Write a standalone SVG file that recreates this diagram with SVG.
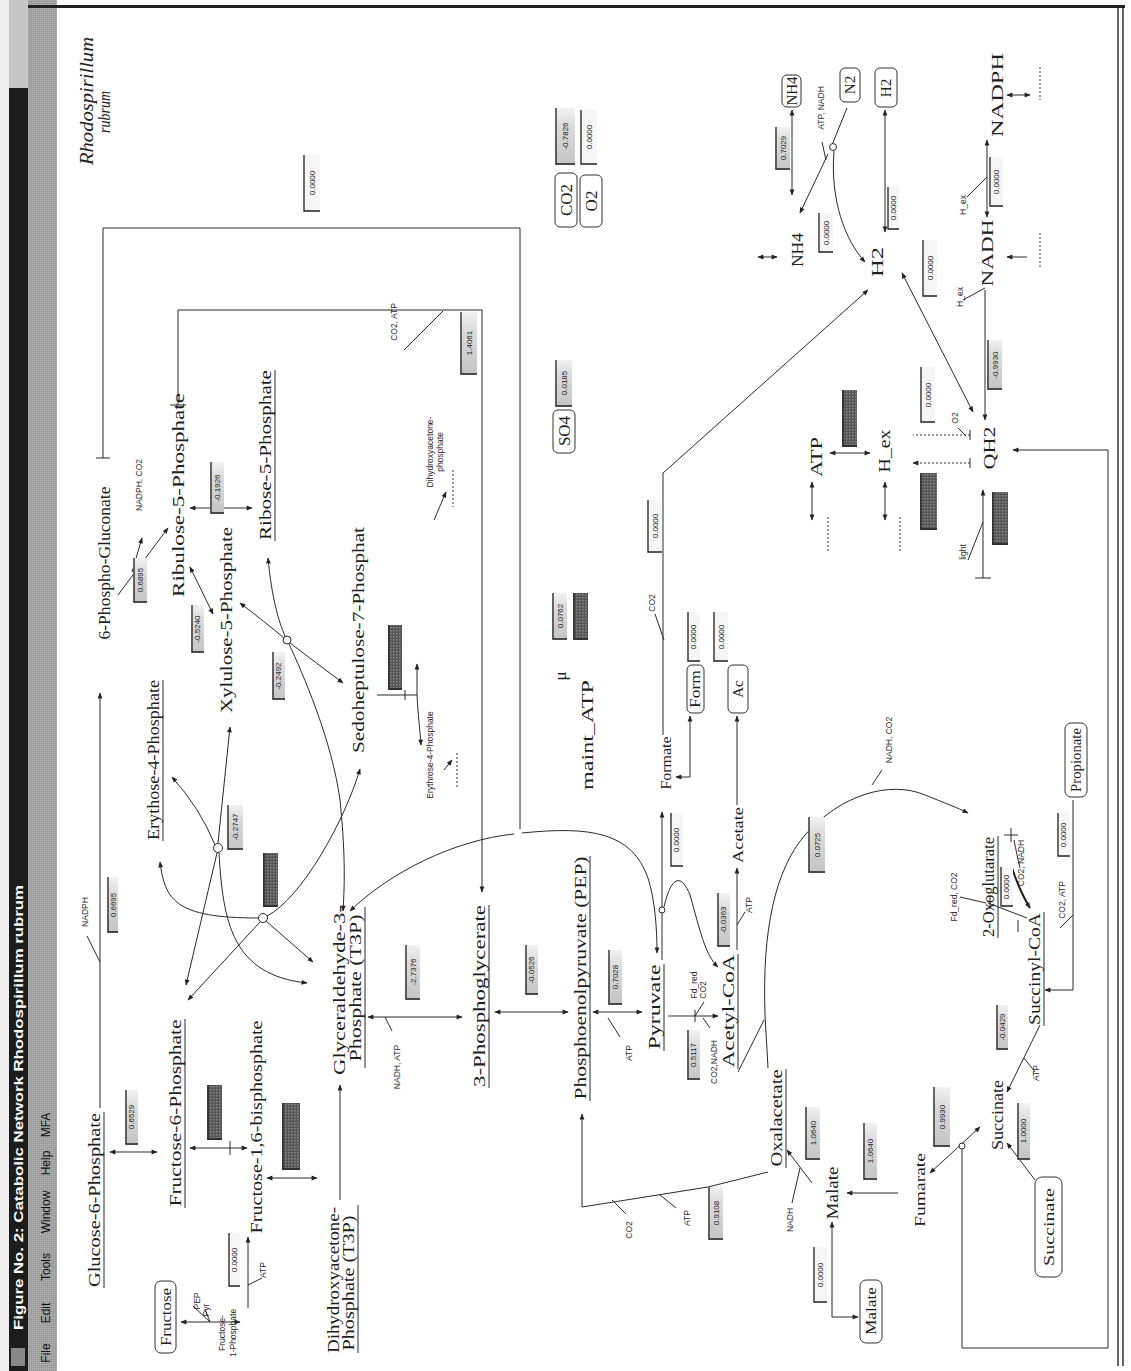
<svg xmlns="http://www.w3.org/2000/svg" width="1131" height="1371" viewBox="0 0 1131 1371">
<defs>
<style>
.m{font-family:"Liberation Serif","DejaVu Serif",serif;font-size:17px;fill:#1e1e1e}
.f{font-family:"Liberation Serif","DejaVu Serif",serif;font-size:15px;fill:#1e1e1e}
.s{font-family:"Liberation Sans","DejaVu Sans",sans-serif;font-size:8.5px;fill:#2a2a2a}
.v{font-family:"Liberation Sans","DejaVu Sans",sans-serif;font-size:8px;fill:#222}
.c{fill:none;stroke:#2a2a2a;stroke-width:1}
.d{fill:none;stroke:#333;stroke-width:1;stroke-dasharray:2 2}
.bx{fill:#fff;stroke:#333;stroke-width:1}
.fw{fill:#f6f6f6}
.fg{fill:url(#gg)}
.fd{fill:url(#hp)}
.fe{fill:none;stroke:#222;stroke-width:1.3}
.ci{fill:#fff;stroke:#2a2a2a;stroke-width:1}
.ul{stroke:#2a2a2a;stroke-width:1}
</style>
<linearGradient id="gg" x1="0" y1="1" x2="0" y2="0"><stop offset="0" stop-color="#c4c4c4"/><stop offset="0.7" stop-color="#dcdcdc"/><stop offset="1" stop-color="#f2f2f2"/></linearGradient>
<pattern id="hp" width="3" height="3" patternUnits="userSpaceOnUse"><rect width="3" height="3" fill="#555"/><rect width="1.5" height="1.5" fill="#888"/></pattern>
<pattern id="mp" width="2" height="2" patternUnits="userSpaceOnUse"><rect width="2" height="2" fill="#9c9c9c"/><rect width="1" height="1" fill="#b8b8b8"/></pattern>
<marker id="a" viewBox="0 0 10 10" refX="9" refY="5" markerWidth="7" markerHeight="6" orient="auto-start-reverse" markerUnits="userSpaceOnUse"><path d="M0,1L10,5L0,9z" fill="#222"/></marker>
</defs>

<g id="window">
<rect x="0" y="0" width="1131" height="1371" fill="#fff"/>
<rect x="0" y="0" width="9" height="1371" fill="#eeeeee"/>
<rect x="9" y="88" width="19" height="1283" fill="#1c1c1c"/>
<rect x="9" y="0" width="19" height="88" fill="#c6c6c6"/>
<rect x="28" y="0" width="29" height="1371" fill="url(#mp)"/>
<rect x="28" y="5" width="1097" height="3" fill="#222"/>
<line x1="1118" y1="8" x2="1118" y2="1366" stroke="#333" stroke-width="1.5"/>
<line x1="1123" y1="8" x2="1123" y2="1366" stroke="#333" stroke-width="1.5"/>
<rect x="11" y="1348" width="14" height="18" fill="#888"/>
<text transform="translate(23,1330) rotate(-90)" font-family="Liberation Sans, sans-serif" font-weight="bold" font-size="12" fill="#fff" textLength="445" lengthAdjust="spacingAndGlyphs">Figure No. 2: Catabolic Network Rhodospirillum rubrum</text>
<g font-family="Liberation Sans, sans-serif" font-size="12" fill="#111" text-anchor="middle">
<text transform="translate(50,1353) rotate(-90)">File</text>
<text transform="translate(50,1313) rotate(-90)">Edit</text>
<text transform="translate(50,1267) rotate(-90)">Tools</text>
<text transform="translate(50,1212) rotate(-90)">Window</text>
<text transform="translate(50,1163) rotate(-90)">Help</text>
<text transform="translate(50,1125) rotate(-90)">MFA</text>
</g>
</g>

<g id="title">
<text transform="translate(93,101) rotate(-90)" text-anchor="middle" font-family="Liberation Serif, serif" font-style="italic" font-size="18" fill="#222" textLength="128" lengthAdjust="spacingAndGlyphs">Rhodospirillum</text>
<text transform="translate(110,112) rotate(-90)" text-anchor="middle" font-family="Liberation Serif, serif" font-style="italic" font-size="17" fill="#222" textLength="42" lengthAdjust="spacingAndGlyphs">rubrum</text>
</g>

<g id="connectors">
<path class="c" d="M100 1108V693" marker-end="url(#a)"/>
<path class="c" d="M100 962L87 936"/>
<path class="c" d="M96 458H110M103 458V228H520V829"/>
<path class="c" d="M350 911C390 872 455 840 514 834M522 833C590 826 632 832 648 878C655 900 657 928 657 953" marker-start="url(#a)" marker-end="url(#a)"/>
<path class="c" d="M170 405H186"/>
<path class="c" d="M178 405V310H482V892" marker-end="url(#a)"/>
<path class="c" d="M443 311L404 350"/>
<path class="c" d="M118 595L168 528" marker-end="url(#a)"/>
<path class="c" d="M132 572L142 538" marker-end="url(#a)"/>
<path class="c" d="M190 508H252" marker-start="url(#a)" marker-end="url(#a)"/>
<path class="c" d="M190 567L213 614" marker-start="url(#a)" marker-end="url(#a)"/>
<path class="c" d="M240 603Q265 622 284 638M290 643Q315 662 343 683" marker-start="url(#a)" marker-end="url(#a)"/>
<circle class="ci" cx="287" cy="640" r="4"/>
<path class="c" d="M268 558C272 600 279 622 285 636M289 644C302 672 332 740 340 800C345 850 345 880 343 911" marker-start="url(#a)" marker-end="url(#a)"/>
<path class="c" d="M230 727L218 843M217 853L186 985" marker-start="url(#a)" marker-end="url(#a)"/>
<circle class="ci" cx="218" cy="848" r="4.5"/>
<path class="c" d="M172 777Q200 808 215 845" marker-start="url(#a)"/>
<path class="c" d="M219 853C223 922 232 975 307 983" marker-end="url(#a)"/>
<path class="c" d="M160 862C165 900 175 918 258 918" marker-start="url(#a)"/>
<circle class="ci" cx="263" cy="918" r="4.5"/>
<path class="c" d="M267 916C302 898 345 820 360 769" marker-end="url(#a)"/>
<path class="c" d="M313 962L266 921" marker-start="url(#a)"/>
<path class="c" d="M260 922L188 1000" marker-end="url(#a)"/>
<path class="c" d="M110 1152H157" marker-start="url(#a)" marker-end="url(#a)"/>
<path class="c" d="M190 1148H247" marker-start="url(#a)" marker-end="url(#a)"/>
<path class="c" d="M230 1141V1155"/>
<path class="c" d="M267 1178H317" marker-start="url(#a)" marker-end="url(#a)"/>
<path class="c" d="M340 1200V1085" marker-end="url(#a)"/>
<path class="c" d="M181 1322H240" marker-start="url(#a)" marker-end="url(#a)"/>
<path class="c" d="M193 1306L210 1322L205 1309"/>
<path class="c" d="M248 1308V1237" marker-end="url(#a)"/>
<path class="c" d="M248 1285L262 1278"/>
<path class="c" d="M368 1017H462" marker-start="url(#a)" marker-end="url(#a)"/>
<path class="c" d="M385 1017L392 1031"/>
<path class="c" d="M495 1012H568" marker-start="url(#a)" marker-end="url(#a)"/>
<path class="c" d="M593 1012H642" marker-start="url(#a)" marker-end="url(#a)"/>
<path class="c" d="M608 1018L620 1037"/>
<path class="c" d="M662 960V812" marker-end="url(#a)"/>
<circle class="ci" cx="662" cy="910" r="3"/>
<path class="c" d="M664 907C670 880 680 870 690 895C700 930 705 955 718 967" marker-end="url(#a)"/>
<path class="c" d="M668 1016H718" marker-end="url(#a)"/>
<path class="c" d="M695 1010V1022M695 1016L704 1002M703 1018L710 1028"/>
<path class="c" d="M737 950V868" marker-end="url(#a)"/>
<path class="c" d="M737 925L745 912"/>
<path class="c" d="M737 805V716" marker-end="url(#a)"/>
<path class="c" d="M676 777H690V716" marker-start="url(#a)" marker-end="url(#a)"/>
<path class="c" d="M663 735V473L868 290" marker-end="url(#a)"/>
<path class="c" d="M664 640L655 614"/>
<path class="c" d="M768 1172L708 1187L582 1207V1114" marker-end="url(#a)"/>
<path class="c" d="M612 1200L626 1214M660 1195L676 1208"/>
<path class="c" d="M768 1068L765 1015C762 930 775 870 805 835C840 795 890 780 925 795C945 803 958 808 968 813" marker-end="url(#a)"/>
<path class="c" d="M738 1072L764 1020"/>
<path class="c" d="M872 785L882 770"/>
<path class="c" d="M812 1183L787 1150" marker-end="url(#a)"/>
<path class="c" d="M800 1168L792 1203"/>
<path class="c" d="M898 1193H847" marker-end="url(#a)"/>
<path class="c" d="M832 1222V1317H858" marker-start="url(#a)" marker-end="url(#a)"/>
<path class="c" d="M980 1127L930 1173" marker-start="url(#a)" marker-end="url(#a)"/>
<circle class="ci" cx="962" cy="1146" r="3"/>
<path class="c" d="M962 1149V1348H1108V450H1013" marker-end="url(#a)"/>
<path class="c" d="M1035 1180L1007 1143" marker-end="url(#a)"/>
<path class="c" d="M1040 1025L1007 1092" marker-end="url(#a)"/>
<path class="c" d="M1024 1058L1035 1072"/>
<path class="c" d="M1073 800V990H1045" marker-end="url(#a)"/>
<path class="c" d="M1073 915L1060 928"/>
<path d="M1012 868C1016 880 1022 895 1030 908" fill="none" stroke="#222" stroke-width="2" marker-end="url(#a)"/>
<path class="c" d="M1011 828V842M1004 835H1018M1014 840C1016 850 1018 860 1020 868"/>
<path class="c" d="M1027 918L988 903M990 897V909M1018 920V932M986 903L960 897"/>
<path class="c" d="M885 110V232" marker-start="url(#a)" marker-end="url(#a)"/>
<path class="c" d="M792 110V195" marker-start="url(#a)" marker-end="url(#a)"/>
<path class="c" d="M847 108L830 150M828 154L800 213" marker-end="url(#a)"/>
<circle class="ci" cx="833" cy="147" r="3.5"/>
<path class="c" d="M834 151C830 200 845 240 865 262" marker-end="url(#a)"/>
<path class="c" d="M822 142L826 160"/>
<path class="c" d="M987 140V217" marker-start="url(#a)" marker-end="url(#a)"/>
<path class="c" d="M967 197L987 177"/>
<path class="c" d="M985 290V420" marker-end="url(#a)"/>
<path class="c" d="M963 300L985 288"/>
<path class="c" d="M902 273L973 412" marker-start="url(#a)" marker-end="url(#a)"/>
<path class="c" d="M830 453H870" marker-start="url(#a)" marker-end="url(#a)"/>
<path class="d" d="M970 435H913M970 463H913" marker-end="url(#a)"/>
<path class="c" d="M970 430V440M970 458V468"/>
<path class="c" d="M958 428L966 436"/>
<path class="c" d="M975 578H991"/>
<path class="c" d="M983 578V490" marker-end="url(#a)"/>
<path class="c" d="M968 560L983 522"/>
<path class="c" d="M812 482V520" marker-start="url(#a)" marker-end="url(#a)"/>
<path class="c" d="M885 482V520" marker-start="url(#a)" marker-end="url(#a)"/>
<path class="c" d="M758 257H777" marker-start="url(#a)" marker-end="url(#a)"/>
<path class="c" d="M1007 95H1030" marker-start="url(#a)" marker-end="url(#a)"/>
<path class="c" d="M1007 257H1027" marker-start="url(#a)"/>
<path class="d" d="M828 517V553M900 517V553M1040 67V100M1040 233V267M453 470V507M457 753V787"/>
<path class="c" d="M377 695H417V664" marker-end="url(#a)"/>
<path class="c" d="M405 690V700"/>
<path class="c" d="M417 695C418 715 420 730 421 745" marker-end="url(#a)"/>
<path class="c" d="M446 492L434 520" marker-start="url(#a)"/>
<path class="c" d="M444 770L452 760" marker-end="url(#a)"/>
</g>

<g id="nodes">
<g id="n-6pg"><text class="m" transform="translate(110,563) rotate(-90)" text-anchor="middle" textLength="153" lengthAdjust="spacingAndGlyphs">6-Phospho-Gluconate</text></g>
<g id="n-ru5p"><text class="m" transform="translate(184,495) rotate(-90)" text-anchor="middle" textLength="204" lengthAdjust="spacingAndGlyphs">Ribulose-5-Phosphate</text></g>
<g id="n-r5p"><text class="m" transform="translate(271,455) rotate(-90)" text-anchor="middle" textLength="170" lengthAdjust="spacingAndGlyphs">Ribose-5-Phosphate</text><line class="ul" x1="275" y1="370" x2="275" y2="541"/></g>
<g id="n-x5p"><text class="m" transform="translate(232,620) rotate(-90)" text-anchor="middle" textLength="186" lengthAdjust="spacingAndGlyphs">Xylulose-5-Phosphate</text></g>
<g id="n-e4p"><text class="m" transform="translate(159,760) rotate(-90)" text-anchor="middle" textLength="160" lengthAdjust="spacingAndGlyphs">Erythose-4-Phosphate</text><line class="ul" x1="163" y1="680" x2="163" y2="841"/></g>
<g id="n-s7p"><text class="m" transform="translate(364,640) rotate(-90)" text-anchor="middle" textLength="226" lengthAdjust="spacingAndGlyphs">Sedoheptulose-7-Phosphat</text></g>
<g id="n-g6p"><text class="m" transform="translate(100,1200) rotate(-90)" text-anchor="middle" textLength="174" lengthAdjust="spacingAndGlyphs">Glucose-6-Phosphate</text><line class="ul" x1="104" y1="1112" x2="104" y2="1288"/></g>
<g id="n-f6p"><text class="m" transform="translate(181,1113) rotate(-90)" text-anchor="middle" textLength="187" lengthAdjust="spacingAndGlyphs">Fructose-6-Phosphate</text><line class="ul" x1="185" y1="1019" x2="185" y2="1208"/></g>
<g id="n-fbp"><text class="m" transform="translate(262,1127) rotate(-90)" text-anchor="middle" textLength="213" lengthAdjust="spacingAndGlyphs">Fructose-1,6-bisphosphate</text></g>
<g id="n-t3p"><text class="m" transform="translate(345,990) rotate(-90)" text-anchor="middle" textLength="170" lengthAdjust="spacingAndGlyphs">Glyceraldehyde-3-</text><text class="m" transform="translate(361,988) rotate(-90)" text-anchor="middle" textLength="147" lengthAdjust="spacingAndGlyphs">Phosphate (T3P)</text><line class="ul" x1="365" y1="907" x2="365" y2="1068"/></g>
<g id="n-dhap"><text class="m" transform="translate(339,1280) rotate(-90)" text-anchor="middle" textLength="146" lengthAdjust="spacingAndGlyphs">Dihydroxyacetone-</text><text class="m" transform="translate(354,1283) rotate(-90)" text-anchor="middle" textLength="135" lengthAdjust="spacingAndGlyphs">Phosphate (T3P)</text><line class="ul" x1="358" y1="1205" x2="358" y2="1353"/></g>
<g id="n-3pg"><text class="m" transform="translate(485,996) rotate(-90)" text-anchor="middle" textLength="182" lengthAdjust="spacingAndGlyphs">3-Phosphoglycerate</text><line class="ul" x1="489" y1="905" x2="489" y2="1088"/></g>
<g id="n-pep"><text class="m" transform="translate(586,978) rotate(-90)" text-anchor="middle" textLength="243" lengthAdjust="spacingAndGlyphs">Phosphoenolpyruvate (PEP)</text><line class="ul" x1="590" y1="856" x2="590" y2="1101"/></g>
<g id="n-pyr"><text class="m" transform="translate(660,1007) rotate(-90)" text-anchor="middle" textLength="85" lengthAdjust="spacingAndGlyphs">Pyruvate</text><line class="ul" x1="664" y1="964" x2="664" y2="1051"/></g>
<g id="n-for"><text class="f" transform="translate(671,763) rotate(-90)" text-anchor="middle" textLength="53" lengthAdjust="spacingAndGlyphs">Formate</text></g>
<g id="n-accoa"><text class="m" transform="translate(734,1011) rotate(-90)" text-anchor="middle" textLength="113" lengthAdjust="spacingAndGlyphs">Acetyl-CoA</text><line class="ul" x1="738" y1="954" x2="738" y2="1069"/></g>
<g id="n-ace"><text class="f" transform="translate(743,835) rotate(-90)" text-anchor="middle" textLength="56" lengthAdjust="spacingAndGlyphs">Acetate</text></g>
<g id="n-oaa"><text class="m" transform="translate(782,1118) rotate(-90)" text-anchor="middle" textLength="97" lengthAdjust="spacingAndGlyphs">Oxalacetate</text><line class="ul" x1="786" y1="1069" x2="786" y2="1168"/></g>
<g id="n-2og"><text class="m" transform="translate(994,887) rotate(-90)" text-anchor="middle" textLength="100" lengthAdjust="spacingAndGlyphs">2-Oxoglutarate</text><line class="ul" x1="998" y1="836" x2="998" y2="938"/></g>
<g id="n-succoa"><text class="m" transform="translate(1040,969) rotate(-90)" text-anchor="middle" textLength="112" lengthAdjust="spacingAndGlyphs">Succinyl-CoA</text><line class="ul" x1="1044" y1="912" x2="1044" y2="1026"/></g>
<g id="n-succ"><text class="m" transform="translate(1003,1115) rotate(-90)" text-anchor="middle" textLength="70" lengthAdjust="spacingAndGlyphs">Succinate</text></g>
<g id="n-mal"><text class="m" transform="translate(838,1193) rotate(-90)" text-anchor="middle" textLength="53" lengthAdjust="spacingAndGlyphs">Malate</text></g>
<g id="n-fum"><text class="f" transform="translate(925,1190) rotate(-90)" text-anchor="middle" textLength="74" lengthAdjust="spacingAndGlyphs">Fumarate</text></g>
<g id="n-nh4"><text class="m" transform="translate(803,250) rotate(-90)" text-anchor="middle" textLength="34" lengthAdjust="spacingAndGlyphs">NH4</text></g>
<g id="n-h2"><text class="m" transform="translate(883,262) rotate(-90)" text-anchor="middle" textLength="30" lengthAdjust="spacingAndGlyphs">H2</text></g>
<g id="n-nadh"><text class="m" transform="translate(993,253) rotate(-90)" text-anchor="middle" textLength="67" lengthAdjust="spacingAndGlyphs">NADH</text></g>
<g id="n-nadph"><text class="m" transform="translate(1003,95) rotate(-90)" text-anchor="middle" textLength="84" lengthAdjust="spacingAndGlyphs">NADPH</text></g>
<g id="n-atp"><text class="m" transform="translate(822,457) rotate(-90)" text-anchor="middle" textLength="40" lengthAdjust="spacingAndGlyphs">ATP</text></g>
<g id="n-hex"><text class="m" transform="translate(890,451) rotate(-90)" text-anchor="middle" textLength="43" lengthAdjust="spacingAndGlyphs">H_ex</text></g>
<g id="n-qh2"><text class="m" transform="translate(995,448) rotate(-90)" text-anchor="middle" textLength="43" lengthAdjust="spacingAndGlyphs">QH2</text></g>
<g id="n-mu"><text class="m" transform="translate(566,676) rotate(-90)" text-anchor="middle">μ</text></g>
<g id="n-maint"><text class="m" transform="translate(593,735) rotate(-90)" text-anchor="middle" textLength="110" lengthAdjust="spacingAndGlyphs">maint_ATP</text></g>

<g id="b-co2"><rect class="bx" x="555" y="173" width="22" height="54" rx="5"/><text class="m" transform="translate(572,200) rotate(-90)" text-anchor="middle">CO2</text></g>
<g id="b-o2"><rect class="bx" x="580" y="175" width="22" height="52" rx="5"/><text class="m" transform="translate(597,201) rotate(-90)" text-anchor="middle">O2</text></g>
<g id="b-so4"><rect class="bx" x="553" y="410" width="22" height="43" rx="5"/><text class="m" transform="translate(570,431) rotate(-90)" text-anchor="middle">SO4</text></g>
<g id="b-nh4"><rect class="bx" x="782" y="75" width="19" height="32" rx="5"/><text class="f" transform="translate(797,91) rotate(-90)" text-anchor="middle">NH4</text></g>
<g id="b-n2"><rect class="bx" x="840" y="68" width="20" height="34" rx="5"/><text class="f" transform="translate(855,85) rotate(-90)" text-anchor="middle">N2</text></g>
<g id="b-h2"><rect class="bx" x="875" y="68" width="22" height="39" rx="5"/><text class="f" transform="translate(891,88) rotate(-90)" text-anchor="middle">H2</text></g>
<g id="b-form"><rect class="bx" x="687" y="665" width="17" height="48" rx="5"/><text class="f" transform="translate(700,689) rotate(-90)" text-anchor="middle" textLength="38" lengthAdjust="spacingAndGlyphs">Form</text></g>
<g id="b-ac"><rect class="bx" x="728" y="665" width="20" height="48" rx="5"/><text class="f" transform="translate(743,689) rotate(-90)" text-anchor="middle">Ac</text></g>
<g id="b-fru"><rect class="bx" x="155" y="1281" width="21" height="72" rx="6"/><text class="f" transform="translate(171,1317) rotate(-90)" text-anchor="middle" textLength="58" lengthAdjust="spacingAndGlyphs">Fructose</text></g>
<g id="b-mal"><rect class="bx" x="860" y="1280" width="22" height="63" rx="6"/><text class="f" transform="translate(876,1311) rotate(-90)" text-anchor="middle" textLength="48" lengthAdjust="spacingAndGlyphs">Malate</text></g>
<g id="b-succ"><rect class="bx" x="1035" y="1177" width="27" height="100" rx="7"/><text class="f" transform="translate(1054,1227) rotate(-90)" text-anchor="middle" textLength="78" lengthAdjust="spacingAndGlyphs">Succinate</text></g>
<g id="b-prop"><rect class="bx" x="1065" y="723" width="22" height="74" rx="6"/><text class="f" transform="translate(1081,760) rotate(-90)" text-anchor="middle" textLength="64" lengthAdjust="spacingAndGlyphs">Propionate</text></g>
</g>

<g id="labels" class="s">
<text transform="translate(88,912) rotate(-90)" text-anchor="middle">NADPH</text>
<text transform="translate(142,485) rotate(-90)" text-anchor="middle">NADPH, CO2</text>
<text transform="translate(397,322) rotate(-90)" text-anchor="middle">CO2, ATP</text>
<text transform="translate(433,452) rotate(-90)" text-anchor="middle">Dihydroxyacetone-</text>
<text transform="translate(443,452) rotate(-90)" text-anchor="middle">phosphate</text>
<text transform="translate(433,755) rotate(-90)" text-anchor="middle">Erythrose-4-Phosphate</text>
<text transform="translate(400,1067) rotate(-90)" text-anchor="middle">NADH, ATP</text>
<text transform="translate(632,1053) rotate(-90)" text-anchor="middle">ATP</text>
<text transform="translate(697,985) rotate(-90)" text-anchor="middle">Fd_red</text>
<text transform="translate(706,990) rotate(-90)" text-anchor="middle">CO2</text>
<text transform="translate(717,1062) rotate(-90)" text-anchor="middle">CO2,NADH</text>
<text transform="translate(752,905) rotate(-90)" text-anchor="middle">ATP</text>
<text transform="translate(655,603) rotate(-90)" text-anchor="middle">CO2</text>
<text transform="translate(632,1230) rotate(-90)" text-anchor="middle">CO2</text>
<text transform="translate(690,1218) rotate(-90)" text-anchor="middle">ATP</text>
<text transform="translate(892,740) rotate(-90)" text-anchor="middle">NADH, CO2</text>
<text transform="translate(957,897) rotate(-90)" text-anchor="middle">Fd_red, CO2</text>
<text transform="translate(1024,863) rotate(-90)" text-anchor="middle">CO2, NADH</text>
<text transform="translate(1065,900) rotate(-90)" text-anchor="middle">CO2, ATP</text>
<text transform="translate(1039,1073) rotate(-90)" text-anchor="middle">ATP</text>
<text transform="translate(793,1220) rotate(-90)" text-anchor="middle">NADH</text>
<text transform="translate(824,108) rotate(-90)" text-anchor="middle">ATP, NADH</text>
<text transform="translate(963,297) rotate(-90)" text-anchor="middle">H_ex</text>
<text transform="translate(966,205) rotate(-90)" text-anchor="middle">H_ex</text>
<text transform="translate(958,418) rotate(-90)" text-anchor="middle">O2</text>
<text transform="translate(966,552) rotate(-90)" text-anchor="middle">light</text>
<text transform="translate(200,1301) rotate(-90)" text-anchor="middle">PEP</text>
<text transform="translate(209,1310) rotate(-90)" text-anchor="middle">Pyr</text>
<text transform="translate(225,1333) rotate(-90)" text-anchor="middle">Fructose-</text>
<text transform="translate(236,1333) rotate(-90)" text-anchor="middle">1-Phosphate</text>
<text transform="translate(266,1270) rotate(-90)" text-anchor="middle">ATP</text>
</g>

<g id="fluxes" class="v">
<g><rect class="fw" x="303" y="155" width="17" height="57"/><path class="fe" d="M304 155V211H320"/><text transform="translate(315,183) rotate(-90)" text-anchor="middle">0.0000</text></g>
<g><rect class="fg" x="555" y="108" width="20" height="57"/><path class="fe" d="M556 108V164H575"/><text transform="translate(568,136) rotate(-90)" text-anchor="middle">-0.7826</text></g>
<g><rect class="fw" x="580" y="110" width="17" height="55"/><path class="fe" d="M581 110V164H597"/><text transform="translate(592,137) rotate(-90)" text-anchor="middle">0.0000</text></g>
<g><rect class="fg" x="775" y="127" width="15" height="43"/><path class="fe" d="M776 127V169H790"/><text transform="translate(786,148) rotate(-90)" text-anchor="middle">0.7029</text></g>
<g><rect class="fw" x="818" y="213" width="15" height="40"/><path class="fe" d="M819 213V252H833"/><text transform="translate(829,233) rotate(-90)" text-anchor="middle">0.0000</text></g>
<g><rect class="fw" x="887" y="187" width="12" height="43"/><path class="fe" d="M888 187V229H899"/><text transform="translate(896,208) rotate(-90)" text-anchor="middle">0.0000</text></g>
<g><rect class="fw" x="922" y="240" width="15" height="57"/><path class="fe" d="M923 240V296H937"/><text transform="translate(933,268) rotate(-90)" text-anchor="middle">0.0000</text></g>
<g><rect class="fw" x="989" y="157" width="14" height="50"/><path class="fe" d="M990 157V206H1003"/><text transform="translate(999,182) rotate(-90)" text-anchor="middle">0.0000</text></g>
<g><rect class="fg" x="460" y="312" width="17" height="63"/><path class="fe" d="M461 312V374H477"/><text transform="translate(472,343) rotate(-90)" text-anchor="middle">1.4061</text></g>
<g><rect class="fg" x="555" y="360" width="17" height="47"/><path class="fe" d="M556 360V406H572"/><text transform="translate(567,383) rotate(-90)" text-anchor="middle">0.0185</text></g>
<g><rect class="fg" x="987" y="340" width="15" height="50"/><path class="fe" d="M988 340V389H1002"/><text transform="translate(998,365) rotate(-90)" text-anchor="middle">-0.9930</text></g>
<g><rect class="fw" x="920" y="367" width="15" height="56"/><path class="fe" d="M921 367V422H935"/><text transform="translate(931,395) rotate(-90)" text-anchor="middle">0.0000</text></g>
<g><rect class="fd" x="842" y="390" width="15" height="57"/><path class="fe" d="M843 390V446H857"/></g>
<g><rect class="fd" x="920" y="473" width="17" height="57"/><path class="fe" d="M921 473V529H937"/></g>
<g><rect class="fd" x="992" y="492" width="16" height="53"/><path class="fe" d="M993 492V544H1008"/></g>
<g><rect class="fg" x="133" y="558" width="14" height="45"/><path class="fe" d="M134 558V602H147"/><text transform="translate(143,580) rotate(-90)" text-anchor="middle">0.6895</text></g>
<g><rect class="fg" x="210" y="462" width="14" height="52"/><path class="fe" d="M211 462V513H224"/><text transform="translate(220,488) rotate(-90)" text-anchor="middle">-0.1926</text></g>
<g><rect class="fg" x="191" y="605" width="13" height="48"/><path class="fe" d="M192 605V652H204"/><text transform="translate(200,629) rotate(-90)" text-anchor="middle">-0.5240</text></g>
<g><rect class="fg" x="272" y="652" width="13" height="48"/><path class="fe" d="M273 652V699H285"/><text transform="translate(281,676) rotate(-90)" text-anchor="middle">-0.2492</text></g>
<g><rect class="fg" x="227" y="805" width="16" height="45"/><path class="fe" d="M228 805V849H243"/><text transform="translate(238,827) rotate(-90)" text-anchor="middle">-0.2747</text></g>
<g><rect class="fd" x="263" y="853" width="15" height="54"/><path class="fe" d="M264 853V906H278"/></g>
<g><rect class="fg" x="107" y="877" width="11" height="56"/><path class="fe" d="M108 877V932H118"/><text transform="translate(116,905) rotate(-90)" text-anchor="middle">0.6695</text></g>
<g><rect class="fd" x="388" y="625" width="14" height="65"/><path class="fe" d="M389 625V689H402"/></g>
<g><rect class="fg" x="125" y="1090" width="13" height="55"/><path class="fe" d="M126 1090V1144H138"/><text transform="translate(134,1117) rotate(-90)" text-anchor="middle">0.6529</text></g>
<g><rect class="fd" x="207" y="1085" width="15" height="55"/><path class="fe" d="M208 1085V1139H222"/></g>
<g><rect class="fd" x="282" y="1103" width="18" height="67"/><path class="fe" d="M283 1103V1169H300"/></g>
<g><rect class="fw" x="228" y="1233" width="12" height="54"/><path class="fe" d="M229 1233V1286H240"/><text transform="translate(237,1260) rotate(-90)" text-anchor="middle">0.0000</text></g>
<g><rect class="fg" x="405" y="945" width="15" height="55"/><path class="fe" d="M406 945V999H420"/><text transform="translate(416,972) rotate(-90)" text-anchor="middle">-2.7376</text></g>
<g><rect class="fg" x="525" y="945" width="13" height="50"/><path class="fe" d="M526 945V994H538"/><text transform="translate(534,970) rotate(-90)" text-anchor="middle">-0.0526</text></g>
<g><rect class="fg" x="608" y="950" width="14" height="55"/><path class="fe" d="M609 950V1004H622"/><text transform="translate(618,977) rotate(-90)" text-anchor="middle">0.7028</text></g>
<g><rect class="fw" x="670" y="813" width="13" height="54"/><path class="fe" d="M671 813V866H683"/><text transform="translate(679,840) rotate(-90)" text-anchor="middle">0.0000</text></g>
<g><rect class="fg" x="687" y="1030" width="13" height="50"/><path class="fe" d="M688 1030V1079H700"/><text transform="translate(696,1055) rotate(-90)" text-anchor="middle">0.5117</text></g>
<g><rect class="fg" x="717" y="893" width="13" height="54"/><path class="fe" d="M718 893V946H730"/><text transform="translate(726,920) rotate(-90)" text-anchor="middle">-0.0363</text></g>
<g><rect class="fg" x="552" y="593" width="15" height="47"/><path class="fe" d="M553 593V639H567"/><text transform="translate(563,616) rotate(-90)" text-anchor="middle">0.0762</text></g>
<g><rect class="fd" x="573" y="593" width="15" height="47"/><path class="fe" d="M574 593V639H588"/></g>
<g><rect class="fw" x="647" y="500" width="15" height="53"/><path class="fe" d="M648 500V552H662"/><text transform="translate(658,526) rotate(-90)" text-anchor="middle">0.0000</text></g>
<g><rect class="fw" x="687" y="612" width="13" height="50"/><path class="fe" d="M688 612V661H700"/><text transform="translate(696,637) rotate(-90)" text-anchor="middle">0.0000</text></g>
<g><rect class="fw" x="713" y="612" width="15" height="50"/><path class="fe" d="M714 612V661H728"/><text transform="translate(724,637) rotate(-90)" text-anchor="middle">0.0000</text></g>
<g><rect class="fg" x="708" y="1187" width="15" height="53"/><path class="fe" d="M709 1187V1239H723"/><text transform="translate(719,1213) rotate(-90)" text-anchor="middle">0.9108</text></g>
<g><rect class="fg" x="808" y="817" width="17" height="56"/><path class="fe" d="M809 817V872H825"/><text transform="translate(820,845) rotate(-90)" text-anchor="middle">0.0725</text></g>
<g><rect class="fw" x="1000" y="867" width="13" height="40"/><path class="fe" d="M1001 867V906H1013"/><text transform="translate(1009,887) rotate(-90)" text-anchor="middle">0.0000</text></g>
<g><rect class="fw" x="1057" y="813" width="13" height="44"/><path class="fe" d="M1058 813V856H1070"/><text transform="translate(1066,835) rotate(-90)" text-anchor="middle">0.0000</text></g>
<g><rect class="fg" x="996" y="1005" width="12" height="45"/><path class="fe" d="M997 1005V1049H1008"/><text transform="translate(1005,1027) rotate(-90)" text-anchor="middle">-0.0429</text></g>
<g><rect class="fg" x="1017" y="1103" width="13" height="57"/><path class="fe" d="M1018 1103V1159H1030"/><text transform="translate(1026,1131) rotate(-90)" text-anchor="middle">1.0000</text></g>
<g><rect class="fg" x="933" y="1087" width="17" height="60"/><path class="fe" d="M934 1087V1146H950"/><text transform="translate(945,1117) rotate(-90)" text-anchor="middle">0.9930</text></g>
<g><rect class="fg" x="863" y="1123" width="14" height="57"/><path class="fe" d="M864 1123V1179H877"/><text transform="translate(873,1151) rotate(-90)" text-anchor="middle">1.0640</text></g>
<g><rect class="fg" x="805" y="1107" width="15" height="53"/><path class="fe" d="M806 1107V1159H820"/><text transform="translate(816,1133) rotate(-90)" text-anchor="middle">1.0640</text></g>
<g><rect class="fw" x="813" y="1247" width="14" height="56"/><path class="fe" d="M814 1247V1302H827"/><text transform="translate(823,1275) rotate(-90)" text-anchor="middle">0.0000</text></g>
</g>
</svg>
